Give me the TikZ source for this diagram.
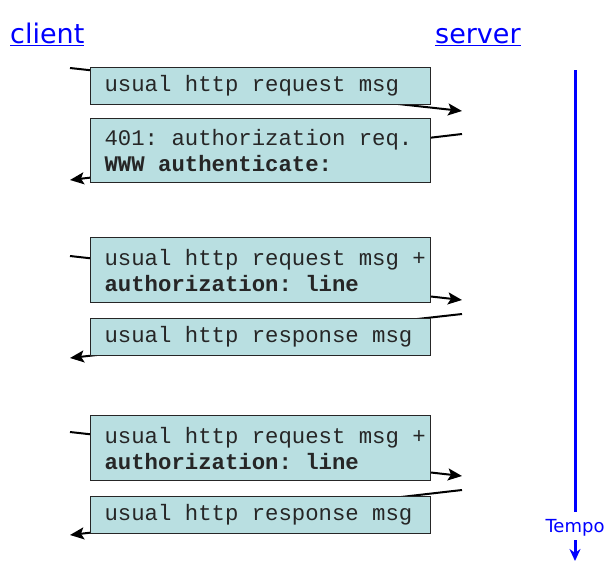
\documentclass[tikz,border=0pt]{standalone}
\usepackage{fontspec}
\setmainfont{DejaVu Sans}
\newfontfamily\monofont{Liberation Mono}
\newcommand\msgfont{\monofont\fontsize{22.3}{26}\selectfont}
\newcommand\msp{\hspace*{0.6em}}
\usetikzlibrary{arrows.meta}
\definecolor{boxfill}{RGB}{185,223,225}
\definecolor{tblue}{RGB}{0,0,255}
\tikzset{
  msgbox/.style={draw=black!85, line width=1.2pt, fill=boxfill, anchor=north west,
    minimum width=340pt, text width=312pt, inner xsep=14pt, inner ysep=0pt, align=left,
    text=black!85, font=\msgfont},
  msg/.style={line width=2pt, -{Stealth[length=14pt,width=12pt,inset=3pt]}},
  hdr/.style={text=tblue, font=\fontsize{27}{30}\selectfont, anchor=base west, inner sep=0pt},
  timeline/.style={draw=tblue, line width=3pt}
}
\begin{document}
\begin{tikzpicture}[x=1pt,y=-1pt]
\useasboundingbox (0,0) rectangle (611,573);
% headers
\node[hdr] (client) at (10,43.5) {\underline{client}};
\node[hdr] (server) at (435,43.5) {\underline{server}};
% arrow end points
\coordinate (a1s) at (70,68);   \coordinate (a1e) at (462,111);
\coordinate (a2s) at (462,134); \coordinate (a2e) at (70,180);
\coordinate (a3s) at (70,256);  \coordinate (a3e) at (462,300);
\coordinate (a4s) at (462,314); \coordinate (a4e) at (70,358);
\coordinate (a5s) at (70,432);  \coordinate (a5e) at (462,476);
\coordinate (a6s) at (462,490); \coordinate (a6e) at (70,535);
\draw[msg] (a1s) -- (a1e);
\draw[msg] (a2s) -- (a2e);
\draw[msg] (a3s) -- (a3e);
\draw[msg] (a4s) -- (a4e);
\draw[msg] (a5s) -- (a5e);
\draw[msg] (a6s) -- (a6e);
% boxes
\node[msgbox, minimum height=37pt] (b1) at (90,67) {usual\msp http\msp request\msp msg};
\node[msgbox, minimum height=64pt] (b2) at (90,118) {401:\msp authorization\msp req.\\\textbf{WWW\msp authenticate:}};
\node[msgbox, minimum height=65pt] (b3) at (90,237) {usual\msp http\msp request\msp msg\msp +\\\textbf{authorization:\msp line}};
\node[msgbox, minimum height=37pt] (b4) at (90,318) {usual\msp http\msp response\msp msg};
\node[msgbox, minimum height=65pt] (b5) at (90,415) {usual\msp http\msp request\msp msg\msp +\\\textbf{authorization:\msp line}};
\node[msgbox, minimum height=37pt] (b6) at (90,496) {usual\msp http\msp response\msp msg};
% time axis
\coordinate (tt) at (575,70);
\coordinate (tm) at (575,512);
\node[text=tblue, font=\fontsize{18}{20}\selectfont, inner sep=0pt, anchor=base] (tempo) at (575,532) {Tempo};
\coordinate (ta) at (575,540);
\coordinate (tb) at (575,561);
\draw[timeline] (tt) -- (tm);
\draw[timeline, -{Stealth[length=12pt,width=11pt]}] (ta) -- (tb);
\end{tikzpicture}
\end{document}
